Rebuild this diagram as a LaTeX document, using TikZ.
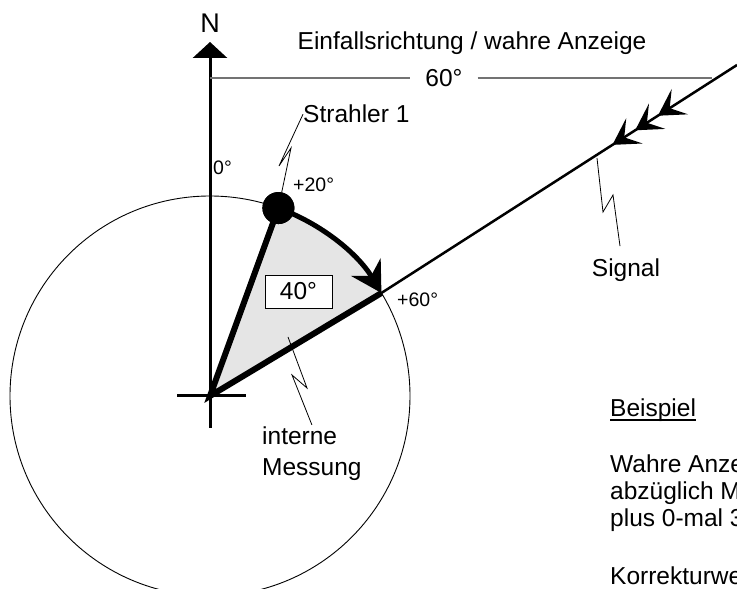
\documentclass[tikz,border=0pt]{standalone}
\usepackage{fontspec}
\setmainfont{Liberation Sans}
\usetikzlibrary{arrows.meta,decorations.markings}
\tikzset{sigtip/.tip={Stealth[length=26bp,width=30bp,inset=12bp]}}
\begin{document}
\begin{tikzpicture}[x=1bp,y=1bp,
    every node/.style={font=\fontsize{24.5bp}{27bp}\selectfont},
    small/.style={font=\fontsize{19.5bp}{22bp}\selectfont},
    lbl/.style={inner sep=0,anchor=base west},
    leader/.style={line width=0.8bp},
    radline/.style={line width=6bp},
    axisline/.style={line width=3bp}]
  \useasboundingbox (-210,-193) rectangle (527,396);
  \clip (-210,-193) rectangle (527,396);
  \coordinate (O) at (0,0);
  \coordinate (P) at (31:200);
  \coordinate (E) at (527,331);
  % measured sector and circle
  \fill[black!10] (O) -- (70:200) arc[start angle=70,end angle=31,radius=200] -- cycle;
  \draw[line width=0.9bp] (O) circle[radius=200];
  % north axis
  \draw[axisline] (-33,0) -- (36,0);
  \draw[axisline,-{Triangle[width=34bp,length=16bp]}] (0,-32) -- (0,354);
  \node[inner sep=0,anchor=base,font=\fontsize{27bp}{30bp}\selectfont] (north) at (0,363) {N};
  \node[inner sep=0,anchor=base] (title) at (262,346) {Einfallsrichtung / wahre Anzeige};
  \coordinate (d0) at (0,318);
  \coordinate (d1) at (502,318);
  \node[inner xsep=15bp,inner ysep=0] (deg60) at (234,318) {60°};
  \draw[black!55,line width=1.3bp] (d0) -- (deg60) -- (d1);
  % signal
  \draw[line width=2.5bp,postaction={decorate},decoration={markings,
      mark=at position 94bp with {\arrow{sigtip}},
      mark=at position 121bp with {\arrow{sigtip}},
      mark=at position 148bp with {\arrow{sigtip}}}] (E) -- (P);
  % emitter and measurement
  \node[circle,fill,inner sep=0,minimum size=32bp] (dot) at (70:200) {};
  \draw[radline] (dot.center) -- (O) -- (P);
  \draw[line width=5bp,-{Stealth[length=30bp,width=34bp,inset=10bp]}]
    (dot.center) arc[start angle=70,end angle=31,radius=200];
  \node[circle,fill,inner sep=0,minimum size=32bp] at (dot) {};
  \node[draw,fill=white,line width=0.8bp,inner sep=0,minimum width=67bp,minimum height=33bp] (box40) at (88.5,104.5) {40°};
  % labels
  \node[lbl,small] (lbl0) at (3,221) {0°};
  \node[lbl,small] (lbl20) at (83,204) {+20°};
  \node[lbl,small] (lbl60) at (187,89) {+60°};
  \node[lbl] (strahler) at (93,273) {Strahler 1};
  \node[align=left,inner sep=0,anchor=west,font=\fontsize{24.5bp}{31bp}\selectfont] (intern) at (52,-58) {interne\\Messung};
  \node[inner sep=0,anchor=base] (signal) at (416,119) {Signal};
  \coordinate (mess) at (78,59);
  \coordinate (sig) at (387,238);
  \draw[leader] (strahler.west) -- (69,230) -- (81,248) -- (dot);
  \draw[leader] (mess) -- (97,8) -- (82,21) -- ([yshift=2bp]intern.north);
  \draw[leader] (sig) -- (393,184) -- (403,201) -- ([shift={(-6bp,13bp)}]signal.north);
  % example text
  \node[lbl] (bsp) at (400,-21) {Beispiel};
  \draw[line width=1.6bp] ([yshift=-3bp]bsp.base west) -- ([yshift=-3bp]bsp.base east);
  \foreach \txt/\yy [count=\i] in {Wahre Anze/-77,abzüglich M/-104,plus 0-mal 3/-131,Korrekturwe/-189}
    \node[lbl] (bsp\i) at (400,\yy) {\txt};
\end{tikzpicture}
\end{document}
